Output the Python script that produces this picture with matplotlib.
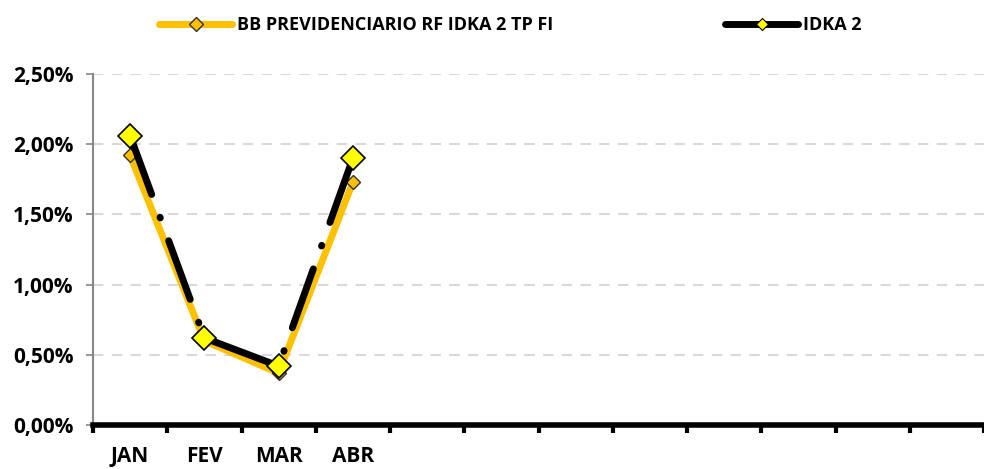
import matplotlib.pyplot as plt
import numpy as np

plt.rcParams['font.family'] = ['Open Sans', 'DejaVu Sans']
plt.rcParams['font.weight'] = 'bold'

# monthly returns (%)
months = ['JAN', 'FEV', 'MAR', 'ABR', '', '', '', '', '', '', '', '']
fund_name = 'BB PREVIDENCIARIO RF IDKA 2 TP FI'
fund_vals = [1.92, 0.60, 0.37, 1.73]
bench_name = 'IDKA 2'
bench_vals = [2.06, 0.62, 0.42, 1.90]
y_ticks = [0.0, 0.5, 1.0, 1.5, 2.0, 2.5]

fig = plt.figure(figsize=(9.84, 4.69), dpi=100)
ax = fig.add_axes([93/984, 1 - 425/469, 1 - 93/984, (425 - 74)/469])

x = np.arange(len(fund_vals))
ax.plot(x, fund_vals, color='#FFC000', lw=5, marker='D', ms=7,
        mfc='#FFC000', mec='#333333', mew=1.0, zorder=3, label=fund_name,
        solid_capstyle='round')
ax.plot(x, bench_vals, color='black', lw=5, zorder=4,
        linestyle=(0, (9, 3.5, 0.1, 3.5)), dash_capstyle='round')
ax.plot(x, bench_vals, ls='none', marker='D', ms=12, mfc='#FFFF00',
        mec='black', mew=1.2, zorder=5)
# legend proxy for benchmark
bench_proxy, = ax.plot([], [], color='black', lw=5, marker='D', ms=6,
                       mfc='#FFFF00', mec='black', mew=0.8,
                       solid_capstyle='round', label=bench_name)

ax.set_xlim(-0.5, len(months) - 0.5)
ax.set_ylim(0, 2.5)
ax.set_yticks(y_ticks)
ax.set_yticklabels([f'{v:.2f}%'.replace('.', ',') for v in y_ticks], fontsize=15)
ax.set_xticks(np.arange(len(months)))
ax.set_xticklabels(months, fontsize=15)
ax.set_xticks(np.arange(len(months) + 1) - 0.5, minor=True)
ax.tick_params(axis='x', which='major', length=0, pad=15)
ax.tick_params(axis='x', which='minor', length=6, width=3, color='black',
               direction='out')
ax.tick_params(axis='y', length=5, width=1.2, color='#888888', pad=9)

ax.grid(axis='y', color='#d9d9d9', ls=(0, (5, 4)), lw=1.5)
ax.set_axisbelow(True)
for s in ['top', 'right']:
    ax.spines[s].set_visible(False)
ax.spines['left'].set_color('#888888')
ax.spines['left'].set_linewidth(1.5)
ax.spines['bottom'].set_color('black')
ax.spines['bottom'].set_linewidth(4)
ax.spines['bottom'].set_zorder(6)

fig.legend(handles=[ax.lines[0], bench_proxy], loc='center left',
           bbox_to_anchor=(143/984, 1 - 25/469), ncol=2, frameon=False,
           handlelength=4.05, handletextpad=0.28, columnspacing=9.5,
           prop={'weight': 'bold', 'size': 13})

fig.savefig('out.png', dpi=100)
